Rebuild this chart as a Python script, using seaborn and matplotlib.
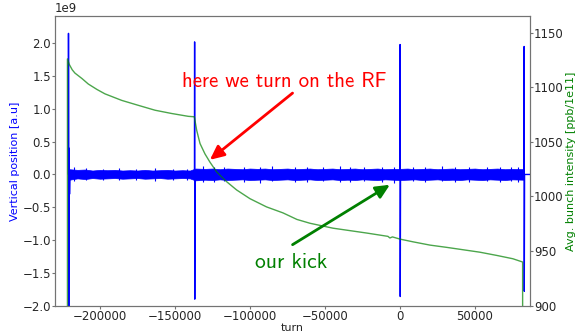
import numpy as np
import pandas as pd
import matplotlib
matplotlib.use("Agg")
import matplotlib.pyplot as plt
import seaborn as sns

# ---------------- data ----------------
# blue trace: noise band envelope (units of 1e9 a.u.)
band_turns = [-220500, -215000, -210000, -205000, -200000, -195000, -190000, -185000,
              -180000, -175000, -170000, -165000, -160000, -155000, -150000, -145000,
              -140000, -136500, -130000, -125000, -120000, -115000, -110000, -105000,
              -100000, -95000, -90000, -85000, -80000, -75000, -70000, -65000,
              -60000, -55000, -50000, -45000, -40000, -35000, -30000, -25000,
              -20000, -15000, -10000, -5000, 0, 5000, 10000, 15000,
              20000, 25000, 30000, 35000, 40000, 45000, 50000, 55000,
              60000, 65000, 70000, 75000, 82600]
band_hi = [0.08, 0.07, 0.075, 0.06, 0.07, 0.065, 0.07, 0.06,
           0.065, 0.06, 0.07, 0.06, 0.065, 0.07, 0.06, 0.065,
           0.06, 0.09, 0.085, 0.09, 0.08, 0.09, 0.085, 0.08,
           0.09, 0.085, 0.09, 0.08, 0.085, 0.09, 0.08, 0.085,
           0.09, 0.08, 0.085, 0.09, 0.08, 0.085, 0.09, 0.08,
           0.085, 0.09, 0.08, 0.085, 0.085, 0.09, 0.08, 0.085,
           0.09, 0.08, 0.085, 0.09, 0.08, 0.085, 0.09, 0.08,
           0.085, 0.09, 0.08, 0.085, 0.08]
band_lo = [-0.08, -0.06, -0.07, -0.055, -0.065, -0.06, -0.055, -0.065,
           -0.06, -0.055, -0.065, -0.06, -0.055, -0.065, -0.06, -0.055,
           -0.06, -0.09, -0.08, -0.085, -0.075, -0.085, -0.08, -0.075,
           -0.085, -0.08, -0.075, -0.085, -0.08, -0.075, -0.085, -0.08,
           -0.075, -0.085, -0.08, -0.075, -0.085, -0.08, -0.085, -0.075,
           -0.08, -0.085, -0.075, -0.08, -0.085, -0.08, -0.075, -0.085,
           -0.08, -0.075, -0.085, -0.08, -0.085, -0.075, -0.08, -0.085,
           -0.075, -0.08, -0.085, -0.075, -0.08]
# blue trace: isolated noise spikes above/below the band (units of 1e9)
noise_turns = [-217000, -209000, -198000, -187000, -176000, -163000, -151000, -142000,
               -131000, -124000, -117000, -104000, -93000, -85000, -70000, -62000,
               -51000, -40000, -33000, -24000, -12000, -4000, 9000, 17000,
               28000, 37000, 46000, 58000, 67000, 74000, 79000]
noise_hi = [0.12, 0.10, 0.09, 0.10, 0.09, 0.10, 0.09, 0.08,
            0.13, 0.12, 0.11, 0.12, 0.11, 0.13, 0.12, 0.11,
            0.12, 0.13, 0.11, 0.12, 0.11, 0.12, 0.11, 0.12,
            0.13, 0.11, 0.12, 0.11, 0.12, 0.11, 0.12]
noise_lo = [-0.10, -0.09, -0.09, -0.08, -0.09, -0.10, -0.08, -0.09,
            -0.11, -0.12, -0.10, -0.11, -0.13, -0.10, -0.11, -0.12,
            -0.10, -0.11, -0.12, -0.10, -0.11, -0.13, -0.10, -0.11,
            -0.10, -0.12, -0.11, -0.10, -0.12, -0.10, -0.11]
# blue trace: kicks (spikes)
spike_turns = [-221000, -221000, -220800, -220600, -220300, -220000,
               -137000, -136900, -136800, -136600,
               0, 100, 200, 400,
               82700, 82800, 82900, 83100, 86700]
spike_vals = [0.0, 2.15, -2.10, 0.40, -0.30, 0.0,
              0.0, 2.02, -1.90, 0.0,
              0.0, 1.98, -1.86, 0.0,
              0.0, 1.95, -1.78, 0.0, 0.0]

# green trace: average bunch intensity [ppb/1e11]
int_turns = [-221700, -221700, -220500, -218500, -216700, -212000, -207800,
             -202000, -196700, -185500, -174500, -163300, -152200, -141100, -137100,
             -135500, -133300, -130000, -126700, -122200, -115500, -108900, -100000,
             -89000, -78000, -68700, -60000, -44700, -22000, -8000, -6700,
             -5000, 0, 8700, 20000, 31300, 53300, 64700, 75300,
             81800, 81800]
int_vals = [895, 1126, 1121, 1116, 1113, 1108, 1103,
            1098, 1094, 1088, 1083.5, 1079, 1076, 1073.4, 1073,
            1060.5, 1048.5, 1039, 1031.5, 1022.5, 1013.5, 1006, 998,
            990.5, 985, 979, 975.5, 971, 966.5, 963.5, 962,
            963, 961, 958.5, 955.5, 953.4, 949, 946, 943,
            940, 895]

SCALE = 1e9
XLIM = (-230000, 86700)

# ---------------- plotting ----------------
sns.set_style("ticks")
plt.rcParams["font.family"] = ["DejaVu Sans"]
plt.rcParams["axes.edgecolor"] = "0.45"
plt.rcParams["axes.linewidth"] = 0.8
plt.rcParams["xtick.color"] = "0.45"
plt.rcParams["ytick.color"] = "0.45"
plt.rcParams["xtick.labelcolor"] = "0.15"
plt.rcParams["ytick.labelcolor"] = "0.15"

fig = plt.figure(figsize=(5.77, 3.34), dpi=100)
ax = fig.add_axes([0.0953, 0.0847, 0.8232, 0.8665])

ax.fill_between(band_turns, np.array(band_lo) * SCALE, np.array(band_hi) * SCALE,
                color="b", lw=0.5)
ax.vlines(noise_turns, np.array(noise_lo) * SCALE, np.array(noise_hi) * SCALE,
          color="b", lw=0.8)
spikes = pd.DataFrame({"turn": spike_turns, "pos": np.array(spike_vals) * SCALE})
sns.lineplot(data=spikes, x="turn", y="pos", estimator=None, sort=False,
             color="b", lw=1.0, ax=ax)

ax.set_xlim(*XLIM)
ax.set_ylim(-2.0e9, 2.41e9)
ax.set_xticks([-200000, -150000, -100000, -50000, 0, 50000])
ax.set_yticks(np.array([-2.0, -1.5, -1.0, -0.5, 0.0, 0.5, 1.0, 1.5, 2.0]) * SCALE)
ax.set_xlabel("turn", fontsize=8, labelpad=0)
ax.set_ylabel("Vertical position [a.u]", color="b", fontsize=8, labelpad=1.5)
ax.tick_params(labelsize=8.5, length=2, pad=1)
ax.yaxis.get_offset_text().set_fontsize(8.5)

ax2 = ax.twinx()
inten = pd.DataFrame({"turn": int_turns, "intensity": int_vals})
sns.lineplot(data=inten, x="turn", y="intensity", estimator=None, sort=False,
             color="g", lw=1.0, alpha=0.7, ax=ax2)
ax2.set_ylim(900, 1165)
ax2.set_yticks([900, 950, 1000, 1050, 1100, 1150])
ax2.set_ylabel("Avg. bunch intensity [ppb/1e11]", color="g", fontsize=8, labelpad=1.5)
ax2.tick_params(labelsize=8.5, length=2, pad=1)
ax2.set_xlim(*XLIM)
ax2.set_xlabel("")

# annotations (drawn in the position-axis coordinates, on top of both traces)
T = ax.transData
ax2.text(-145100, 1.34e9, "here we turn on the RF", color="r", fontsize=15,
         family="cmss10", va="baseline", ha="left", transform=T)
ax2.annotate("", xy=(-126700, 0.223e9), xytext=(-71600, 1.24e9),
             xycoords=T, textcoords=T,
             arrowprops=dict(arrowstyle="-|>,head_length=0.6,head_width=0.28",
                             color="r", lw=2.0, mutation_scale=14,
                             shrinkA=0, shrinkB=0))
ax2.text(-96700, -1.42e9, "our kick", color="g", fontsize=15.5,
         family="cmss10", va="baseline", ha="left", transform=T)
ax2.annotate("", xy=(-6700, -0.157e9), xytext=(-71600, -1.07e9),
             xycoords=T, textcoords=T,
             arrowprops=dict(arrowstyle="-|>,head_length=0.6,head_width=0.28",
                             color="g", lw=2.0, mutation_scale=14,
                             shrinkA=0, shrinkB=0))

fig.savefig("out.png", dpi=100)
